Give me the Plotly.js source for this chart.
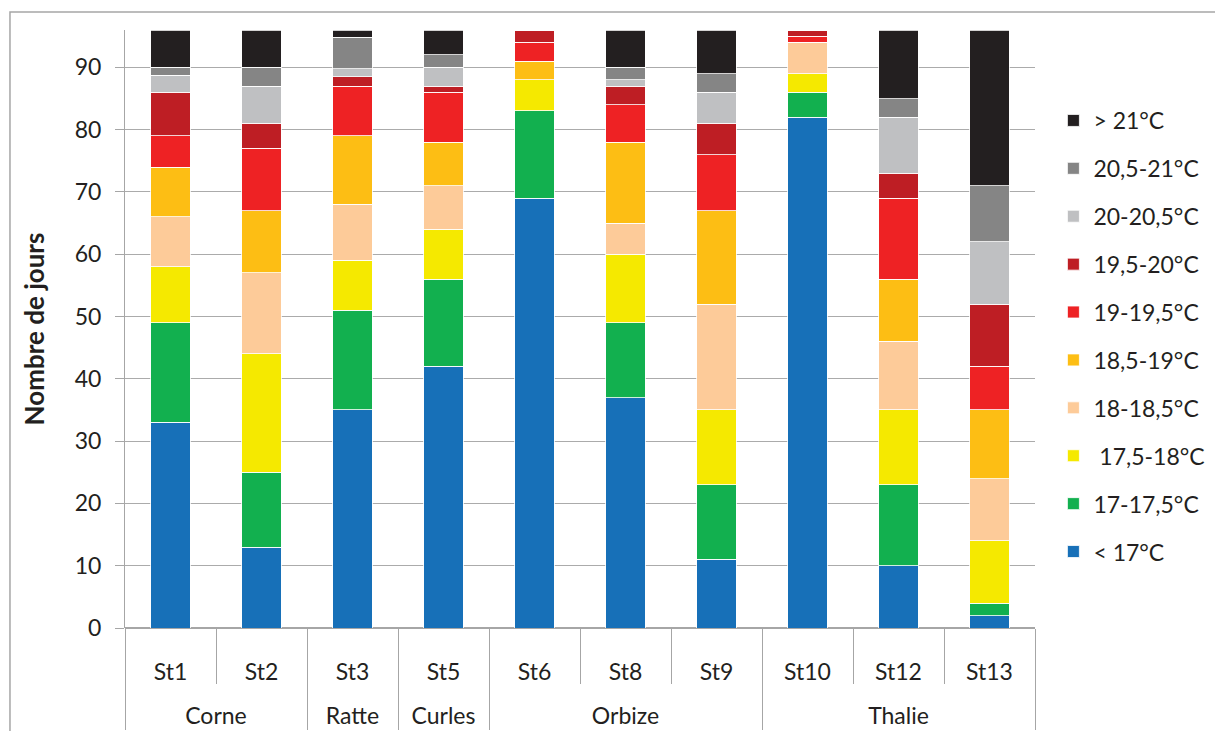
<!DOCTYPE html>
<html>
<head>
<meta charset="utf-8">
<script src="https://cdn.plot.ly/plotly-3.0.1.min.js"></script>
<style>html,body{margin:0;padding:0;background:#fff;}#chart{width:1215px;height:731px;}</style>
</head>
<body>
<div id="chart"></div>
<script>
var groups = ["Corne", "Corne", "Ratte", "Curles", "Orbize", "Orbize", "Orbize", "Thalie", "Thalie", "Thalie"];
var stations = ["St1", "St2", "St3", "St5", "St6", "St8", "St9", "St10", "St12", "St13"];

var seriesNames = ["< 17°C", "17-17,5°C", " 17,5-18°C", "18-18,5°C", "18,5-19°C", "19-19,5°C", "19,5-20°C", "20-20,5°C", "20,5-21°C", "> 21°C"];
var seriesColors = ["#1770B8", "#12B04F", "#F5E900", "#FDCB99", "#FDBE14", "#EE2224", "#BE1E24", "#BFC0C2", "#858585", "#231F20"];

var below17    = [33, 13, 35, 42, 69, 37, 11, 82, 10, 2];
var t17_175    = [16, 12, 16, 14, 14, 12, 12, 4, 13, 2];
var t175_18    = [9, 19, 8, 8, 5, 11, 12, 3, 12, 10];
var t18_185    = [8, 13, 9, 7, 0, 5, 17, 5, 11, 10];
var t185_19    = [8, 10, 11, 7, 3, 13, 15, 0, 10, 11];
var t19_195    = [5, 10, 8, 8, 3, 6, 9, 1, 13, 7];
var t195_20    = [7, 4, 1.5, 1, 2, 3, 5, 1, 4, 10];
var t20_205    = [2.7, 6, 1.3, 3, 0, 1, 5, 0, 9, 10];
var t205_21    = [1.3, 3, 5, 2, 0, 2, 3, 0, 3, 9];
var above21    = [6, 6, 1.2, 4, 0, 6, 7, 0, 11, 25];

var seriesValues = [below17, t17_175, t175_18, t18_185, t185_19, t19_195, t195_20, t20_205, t205_21, above21];

// invisible spacer under each station label so that the group row sits lower, as in the reference
var stationLabels = stations.map(function (s) {
  return s + "<br><span style='font-size:50px;color:rgba(0,0,0,0)'><sub>.</sub></span>";
});

var traces = seriesValues.map(function (vals, i) {
  return {
    type: "bar",
    name: seriesNames[i],
    x: [groups, stationLabels],
    y: vals,
    legendgroup: "g" + i,
    legendrank: 100 - i,
    marker: { color: seriesColors[i], line: { color: "#ffffff", width: 0.8 } },
    hoverinfo: "y+name"
  };
});

var frameColor = "#A6A6A6";

var layout = {
  width: 1215,
  height: 731,
  margin: { l: 125, r: 180, t: 30, b: 103 },
  paper_bgcolor: "#ffffff",
  plot_bgcolor: "#ffffff",
  barmode: "stack",
  bargap: 0.57,
  font: { family: "Lato, 'Open Sans', sans-serif", size: 23, color: "#231F20" },
  showlegend: true,
  legend: {
    traceorder: "grouped",
    tracegroupgap: 15,
    xref: "container", yref: "container",
    x: 0.867, xanchor: "left",
    y: 0.8646, yanchor: "top",
    maxheight: 700,
    font: { size: 23, color: "#231F20" },
    itemwidth: 30
  },
  xaxis: {
    type: "multicategory",
    showdividers: true,
    dividercolor: frameColor,
    dividerwidth: 1,
    tickson: "boundaries",
    ticks: "outside",
    ticklen: 55,
    tickcolor: frameColor,
    ticklabelstandoff: 28,
    showgrid: false,
    showline: false,
    tickfont: { size: 23, color: "#231F20" }
  },
  yaxis: {
    range: [0, 96],
    tickvals: [0, 10, 20, 30, 40, 50, 60, 70, 80, 90],
    showgrid: true,
    gridcolor: "#ABABAB",
    gridwidth: 1,
    zeroline: true,
    zerolinecolor: frameColor,
    zerolinewidth: 1.5,
    showline: true,
    linecolor: frameColor,
    linewidth: 1,
    ticks: "outside",
    ticklen: 9,
    tickcolor: frameColor,
    ticklabelstandoff: 9,
    tickfont: { size: 23, color: "#231F20" },
    title: { text: "<b>Nombre de jours</b>", font: { size: 26, color: "#231F20" }, standoff: 22 }
  },
  shapes: [{
    type: "path",
    xref: "paper", yref: "paper",
    path: "M -0.1264 -0.3 L -0.1264 1.0301 L 1.3 1.0301",
    line: { color: frameColor, width: 1.5 }
  }]
};

Plotly.newPlot("chart", traces, layout, { displayModeBar: false, staticPlot: true });
</script>
</body>
</html>
